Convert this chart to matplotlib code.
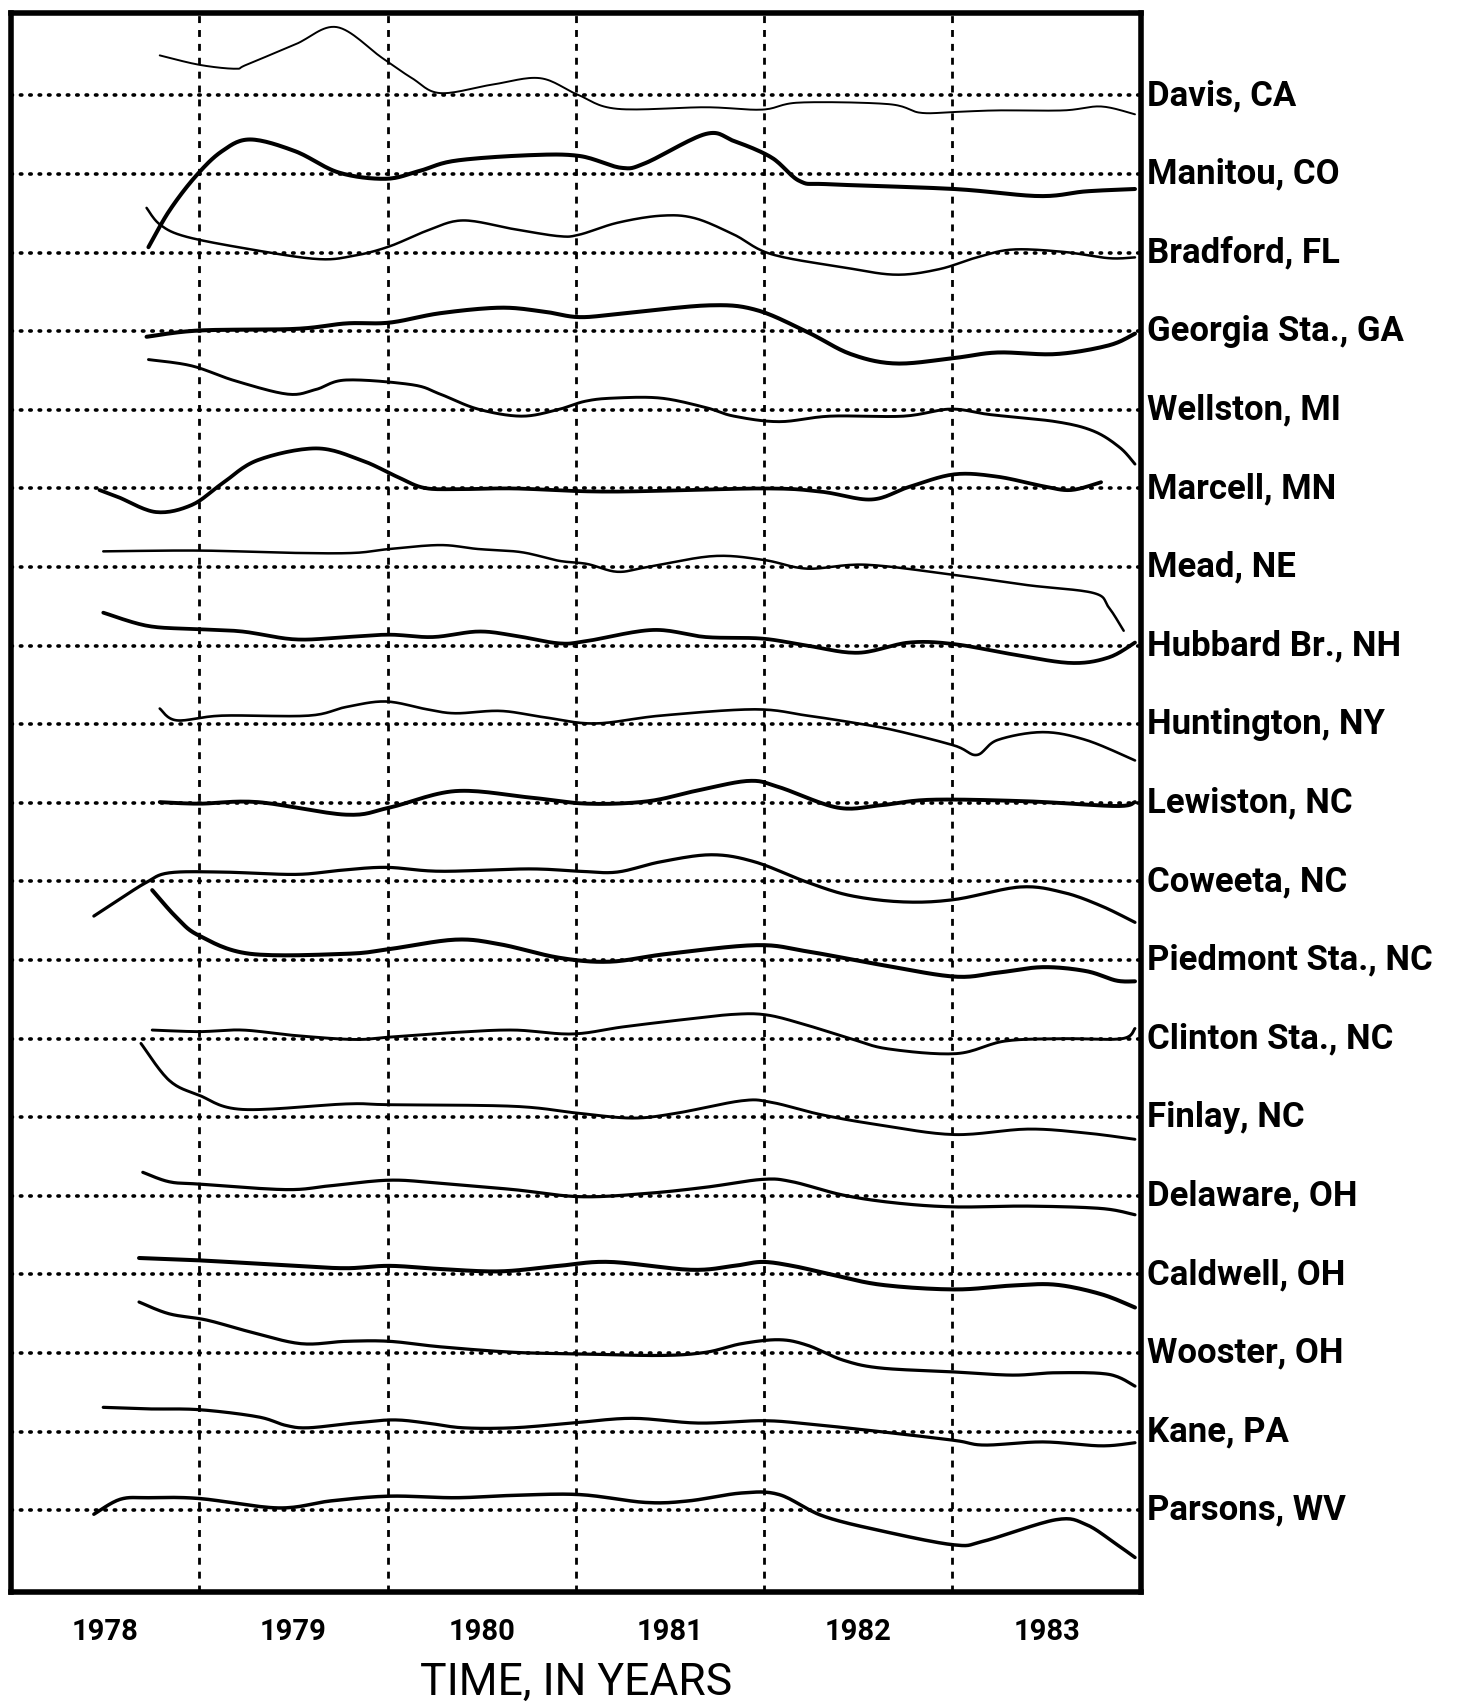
import numpy as np
import matplotlib.pyplot as plt

# Stations from top to bottom
stations = [
    "Davis, CA", "Manitou, CO", "Bradford, FL", "Georgia Sta., GA",
    "Wellston, MI", "Marcell, MN", "Mead, NE", "Hubbard Br., NH",
    "Huntington, NY", "Lewiston, NC", "Coweeta, NC", "Piedmont Sta., NC",
    "Clinton Sta., NC", "Finlay, NC", "Delaware, OH", "Caldwell, OH",
    "Wooster, OH", "Kane, PA", "Parsons, WV",
]

# Each trace: time (decimal year) and departure from its baseline
davis_t = [1978.79, 1979.0, 1979.19, 1979.25, 1979.51, 1979.73, 1979.97, 1980.13, 1980.28, 1980.56,
           1980.81, 1981.01, 1981.22, 1981.69, 1981.99, 1982.19, 1982.66, 1982.83, 1983.01, 1983.24,
           1983.59, 1983.79, 1983.97]
davis_v = [0.51, 0.39, 0.34, 0.39, 0.65, 0.87, 0.48, 0.22, 0.03, 0.14,
           0.22, 0.01, -0.17, -0.15, -0.18, -0.09, -0.11, -0.22, -0.21, -0.19,
           -0.19, -0.14, -0.24]

manitou_t = [1978.73, 1978.84, 1978.98, 1979.12, 1979.27, 1979.51, 1979.74, 1979.99, 1980.17, 1980.36,
             1980.75, 1981.02, 1981.24, 1981.37, 1981.69, 1981.84, 1982.04, 1982.19, 1982.35, 1983.01,
             1983.46, 1983.71, 1983.97]
manitou_v = [-0.93, -0.47, -0.03, 0.29, 0.44, 0.29, 0.02, -0.06, 0.04, 0.17,
             0.24, 0.23, 0.08, 0.14, 0.51, 0.42, 0.21, -0.09, -0.13, -0.19,
             -0.28, -0.22, -0.19]

bradford_t = [1978.72, 1978.79, 1978.92, 1979.23, 1979.62, 1979.82, 1980.01, 1980.21, 1980.40, 1980.67,
              1980.91, 1981.02, 1981.22, 1981.45, 1981.63, 1981.84, 1982.04, 1982.43, 1982.70, 1982.93,
              1983.13, 1983.32, 1983.59, 1983.83, 1983.97]
bradford_v = [0.57, 0.36, 0.21, 0.06, -0.08, -0.04, 0.08, 0.28, 0.41, 0.30,
              0.21, 0.23, 0.38, 0.47, 0.44, 0.23, -0.02, -0.19, -0.28, -0.21,
              -0.06, 0.04, 0.01, -0.07, -0.06]

georgia_t = [1978.72, 1979.0, 1979.51, 1979.78, 1980.01, 1980.28, 1980.60, 1980.83, 1981.02, 1981.26,
             1981.71, 1981.96, 1982.23, 1982.46, 1982.70, 1983.01, 1983.24, 1983.55, 1983.83, 1983.97]
georgia_v = [-0.07, 0.01, 0.03, 0.10, 0.11, 0.23, 0.30, 0.25, 0.18, 0.23,
             0.33, 0.27, -0.01, -0.29, -0.41, -0.34, -0.27, -0.29, -0.18, -0.03]

wellston_t = [1978.73, 1978.96, 1979.19, 1979.47, 1979.62, 1979.78, 1980.13, 1980.28, 1980.48, 1980.71,
              1980.90, 1981.05, 1981.20, 1981.45, 1981.69, 1981.84, 1982.08, 1982.35, 1982.74, 1982.99,
              1983.20, 1983.55, 1983.75, 1983.89, 1983.97]
wellston_v = [0.64, 0.56, 0.37, 0.20, 0.26, 0.38, 0.32, 0.20, 0.01, -0.08,
              0.0, 0.11, 0.15, 0.15, 0.03, -0.08, -0.15, -0.08, -0.08, 0.01,
              -0.06, -0.15, -0.27, -0.48, -0.69]

marcell_t = [1978.47, 1978.57, 1978.77, 1978.96, 1979.12, 1979.31, 1979.62, 1979.86, 1980.05, 1980.19,
             1980.36, 1980.67, 1981.18, 1981.99, 1982.30, 1982.57, 1982.77, 1983.01, 1983.24, 1983.48,
             1983.63, 1983.79]
marcell_v = [-0.02, -0.11, -0.30, -0.21, 0.06, 0.36, 0.51, 0.36, 0.15, 0.01,
             -0.01, 0.0, -0.04, 0.0, -0.04, -0.14, 0.02, 0.18, 0.15, 0.03,
             -0.02, 0.08]

mead_t = [1978.49, 1979.0, 1979.51, 1979.82, 1980.01, 1980.28, 1980.48, 1980.71, 1980.91, 1981.06,
          1981.22, 1981.38, 1981.73, 1982.0, 1982.23, 1982.54, 1983.01, 1983.40, 1983.75, 1983.83,
          1983.91]
mead_v = [0.20, 0.21, 0.18, 0.18, 0.23, 0.28, 0.23, 0.19, 0.08, 0.04,
          -0.06, 0.0, 0.14, 0.09, -0.02, 0.03, -0.10, -0.23, -0.33, -0.51,
          -0.81]

hubbard_t = [1978.49, 1978.73, 1979.0, 1979.23, 1979.51, 1979.78, 1980.01, 1980.24, 1980.48, 1980.67,
             1980.91, 1981.06, 1981.41, 1981.69, 1981.99, 1982.23, 1982.50, 1982.77, 1983.01, 1983.32,
             1983.63, 1983.83, 1983.97]
hubbard_v = [0.42, 0.25, 0.21, 0.18, 0.08, 0.11, 0.14, 0.11, 0.18, 0.13,
             0.03, 0.06, 0.20, 0.11, 0.09, 0.0, -0.09, 0.04, 0.02, -0.11,
             -0.22, -0.15, 0.04]

huntington_t = [1978.79, 1978.88, 1979.12, 1979.58, 1979.78, 1979.99, 1980.21, 1980.36, 1980.60, 1980.83,
                1981.10, 1981.45, 1981.95, 1982.23, 1982.50, 1982.70, 1983.01, 1983.13, 1983.24, 1983.48,
                1983.71, 1983.97]
huntington_v = [0.20, 0.05, 0.11, 0.11, 0.22, 0.29, 0.19, 0.14, 0.17, 0.09,
                0.01, 0.11, 0.19, 0.11, 0.01, -0.08, -0.27, -0.39, -0.20, -0.10,
                -0.20, -0.46]

lewiston_t = [1978.79, 1979.0, 1979.31, 1979.78, 1980.01, 1980.36, 1980.75, 1981.06, 1981.38, 1981.65,
              1981.92, 1982.08, 1982.39, 1982.62, 1982.89, 1983.40, 1983.87, 1983.97]
lewiston_v = [0.01, -0.01, 0.01, -0.15, -0.06, 0.15, 0.07, -0.01, 0.02, 0.16,
              0.28, 0.20, -0.06, -0.03, 0.04, 0.02, -0.04, 0.01]

coweeta_t = [1978.44, 1978.58, 1978.72, 1978.84, 1979.12, 1979.51, 1979.74, 1979.99, 1980.28, 1980.75,
             1981.02, 1981.22, 1981.45, 1981.72, 1981.95, 1982.23, 1982.46, 1982.74, 1983.01, 1983.36,
             1983.59, 1983.79, 1983.97]
coweeta_v = [-0.44, -0.22, -0.01, 0.11, 0.12, 0.09, 0.14, 0.18, 0.13, 0.16,
             0.13, 0.12, 0.25, 0.34, 0.25, -0.01, -0.18, -0.26, -0.23, -0.07,
             -0.14, -0.31, -0.52]

piedmont_t = [1978.75, 1978.88, 1979.0, 1979.27, 1979.78, 1980.01, 1980.36, 1980.60, 1980.91, 1981.18,
              1981.49, 1981.96, 1982.23, 1982.62, 1983.01, 1983.24, 1983.48, 1983.71, 1983.87, 1983.97]
piedmont_v = [0.89, 0.54, 0.31, 0.08, 0.08, 0.14, 0.26, 0.20, 0.03, -0.02,
              0.08, 0.19, 0.11, -0.06, -0.21, -0.16, -0.09, -0.14, -0.26, -0.27]

clinton_t = [1978.75, 1979.0, 1979.23, 1979.51, 1979.82, 1980.01, 1980.36, 1980.67, 1980.98, 1981.25,
             1981.56, 1981.84, 1982.02, 1982.23, 1982.46, 1982.66, 1983.02, 1983.28, 1983.59, 1983.90,
             1983.97]
clinton_v = [0.11, 0.09, 0.11, 0.04, -0.01, 0.02, 0.08, 0.11, 0.06, 0.15,
             0.24, 0.31, 0.30, 0.17, 0.0, -0.13, -0.19, -0.03, 0.0, 0.0,
             0.13]

finlay_t = [1978.69, 1978.84, 1979.0, 1979.23, 1979.78, 1980.01, 1980.67, 1981.02, 1981.30, 1981.53,
            1981.88, 1982.04, 1982.31, 1982.62, 1983.01, 1983.40, 1983.71, 1983.97]
finlay_v = [0.94, 0.47, 0.28, 0.10, 0.17, 0.16, 0.14, 0.05, -0.01, 0.05,
            0.21, 0.19, 0.03, -0.10, -0.22, -0.15, -0.20, -0.28]

delaware_t = [1978.70, 1978.84, 1979.0, 1979.46, 1979.70, 1980.01, 1980.28, 1980.67, 1981.02, 1981.37,
              1981.69, 1981.99, 1982.15, 1982.42, 1982.70, 1983.01, 1983.40, 1983.79, 1983.97]
delaware_v = [0.30, 0.18, 0.15, 0.08, 0.13, 0.20, 0.16, 0.08, -0.01, 0.03,
              0.11, 0.21, 0.18, 0.01, -0.09, -0.14, -0.13, -0.16, -0.24]

caldwell_t = [1978.68, 1979.0, 1979.51, 1979.78, 1980.01, 1980.28, 1980.60, 1980.91, 1981.18, 1981.61,
              1981.84, 1981.99, 1982.15, 1982.34, 1982.62, 1983.01, 1983.32, 1983.55, 1983.79, 1983.97]
caldwell_v = [0.21, 0.18, 0.11, 0.08, 0.11, 0.07, 0.04, 0.11, 0.16, 0.06,
              0.11, 0.16, 0.11, 0.01, -0.13, -0.19, -0.14, -0.13, -0.25, -0.42]

wooster_t = [1978.68, 1978.84, 1979.04, 1979.27, 1979.54, 1979.78, 1980.01, 1980.28, 1980.67, 1981.02,
             1981.45, 1981.69, 1981.88, 1982.08, 1982.23, 1982.42, 1982.62, 1983.01, 1983.32, 1983.55,
             1983.83, 1983.97]
wooster_v = [0.65, 0.50, 0.42, 0.27, 0.12, 0.15, 0.15, 0.08, 0.01, -0.01,
             -0.03, 0.01, 0.12, 0.17, 0.10, -0.09, -0.19, -0.24, -0.28, -0.25,
             -0.27, -0.42]

kane_t = [1978.49, 1978.73, 1979.0, 1979.31, 1979.46, 1979.58, 1979.82, 1980.03, 1980.21, 1980.40,
          1980.67, 1980.98, 1981.30, 1981.65, 1981.99, 1982.23, 1982.62, 1983.01, 1983.17, 1983.48,
          1983.79, 1983.97]
kane_v = [0.31, 0.29, 0.28, 0.19, 0.08, 0.05, 0.11, 0.15, 0.11, 0.05,
          0.05, 0.11, 0.17, 0.11, 0.14, 0.10, 0.0, -0.11, -0.17, -0.13,
          -0.18, -0.14]

parsons_t = [1978.44, 1978.58, 1978.73, 1979.0, 1979.42, 1979.70, 1980.01, 1980.36, 1980.67, 1981.02,
             1981.37, 1981.60, 1981.88, 1982.08, 1982.31, 1982.62, 1983.01, 1983.17, 1983.55, 1983.71,
             1983.87, 1983.97]
parsons_v = [-0.05, 0.14, 0.16, 0.15, 0.03, 0.12, 0.18, 0.16, 0.19, 0.20,
             0.10, 0.12, 0.22, 0.20, -0.07, -0.26, -0.44, -0.39, -0.12, -0.18,
             -0.43, -0.60]

traces = [
    (davis_t, davis_v, 1.4), (manitou_t, manitou_v, 2.9), (bradford_t, bradford_v, 1.8),
    (georgia_t, georgia_v, 2.9), (wellston_t, wellston_v, 2.1), (marcell_t, marcell_v, 2.7),
    (mead_t, mead_v, 1.8), (hubbard_t, hubbard_v, 2.7), (huntington_t, huntington_v, 1.9),
    (lewiston_t, lewiston_v, 2.8), (coweeta_t, coweeta_v, 2.3), (piedmont_t, piedmont_v, 2.9),
    (clinton_t, clinton_v, 2.1), (finlay_t, finlay_v, 2.1), (delaware_t, delaware_v, 2.3),
    (caldwell_t, caldwell_v, 2.9), (wooster_t, wooster_v, 2.3), (kane_t, kane_v, 2.3),
    (parsons_t, parsons_v, 2.5),
]

year_labels = ["1978", "1979", "1980", "1981", "1982", "1983"]


def catmull_rom(x, y, n=16):
    # smooth curve through the given points
    p = np.column_stack([x, y]).astype(float)
    p = np.vstack([p[0], p, p[-1]])
    s = np.linspace(0, 1, n, endpoint=False)[:, None]
    segs = []
    for i in range(1, len(p) - 2):
        p0, p1, p2, p3 = p[i - 1], p[i], p[i + 1], p[i + 2]
        segs.append(0.5 * (2 * p1 + (p2 - p0) * s
                           + (2 * p0 - 5 * p1 + 4 * p2 - p3) * s ** 2
                           + (3 * p1 - p0 - 3 * p2 + p3) * s ** 3))
    segs.append(p[-2][None])
    out = np.vstack(segs)
    return out[:, 0], out[:, 1]


fig = plt.figure(figsize=(14.68, 17.02), dpi=100)
ax = fig.add_axes([0.0075, 0.0646, 0.7695, 0.9278])
ax.set_xlim(1978, 1984)
ax.set_ylim(-len(stations) + 1 - 1.04, 1.05)

# dashed year boundaries
for yr in range(1979, 1984):
    ax.axvline(yr, color="black", lw=2.0, ls=(0, (2.5, 2.5)), zorder=1)

# dotted baselines, one per station
for i in range(len(stations)):
    ax.axhline(-i, color="black", lw=2.6, ls=(0, (0.4, 2.2)), dash_capstyle="round", zorder=1)

for i, (t, v, lw) in enumerate(traces):
    xs, ys = catmull_rom(t, [-i + d for d in v])
    ax.plot(xs, ys, color="black", lw=lw,
            solid_joinstyle="round", solid_capstyle="round", zorder=3)
    ax.text(1.006, -i, stations[i], transform=ax.get_yaxis_transform(),
            ha="left", va="center", fontsize=25, fontweight="bold", family="Roboto")

ax.set_xticks([])
ax.set_yticks([])
for spine in ax.spines.values():
    spine.set_linewidth(4.0)

for k, lab in enumerate(year_labels):
    ax.text(1978.5 + k, -0.0255, lab, transform=ax.get_xaxis_transform(),
            ha="center", va="center", fontsize=21, fontweight="bold", family="Roboto")
ax.text(1981.0, -0.0575, "TIME, IN YEARS", transform=ax.get_xaxis_transform(),
        ha="center", va="center", fontsize=32, family="Roboto")

fig.savefig("out.png", dpi=100, facecolor="white")
